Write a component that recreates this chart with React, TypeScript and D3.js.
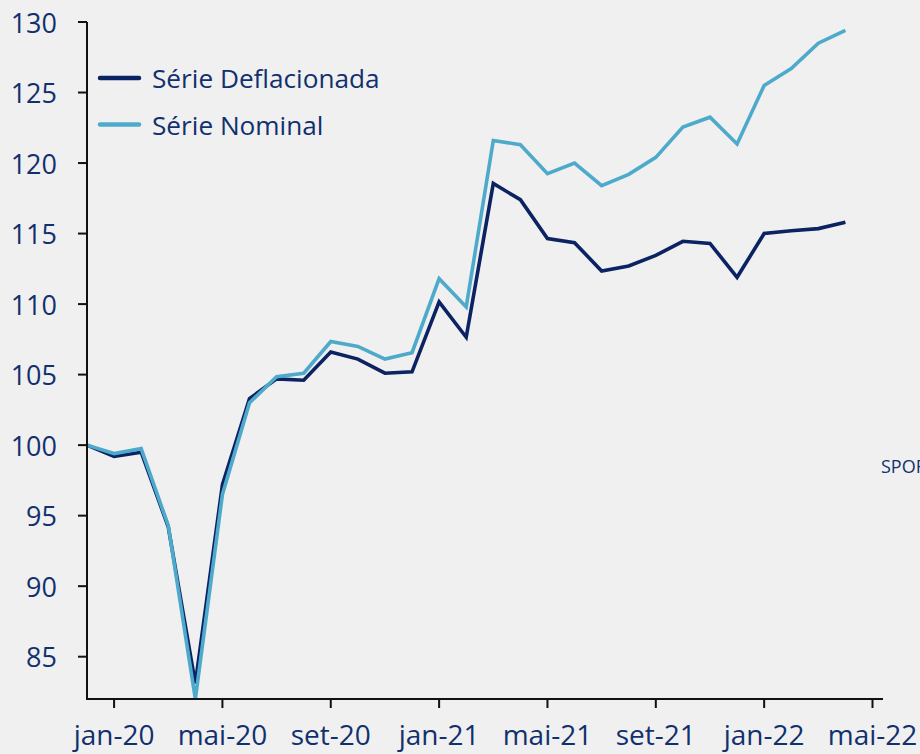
import React from "react";
import * as d3 from "d3";

const months = [
  "dez-19", "jan-20", "fev-20", "mar-20", "abr-20", "mai-20", "jun-20", "jul-20", "ago-20", "set-20",
  "out-20", "nov-20", "dez-20", "jan-21", "fev-21", "mar-21", "abr-21", "mai-21", "jun-21", "jul-21",
  "ago-21", "set-21", "out-21", "nov-21", "dez-21", "jan-22", "fev-22", "mar-22", "abr-22",
];

const deflacionada = [
  100, 99.2, 99.5, 94.2, 83.1, 97.2, 103.3, 104.7, 104.6, 106.6,
  106.1, 105.1, 105.2, 110.15, 107.65, 118.55, 117.4, 114.65, 114.35, 112.35,
  112.7, 113.45, 114.45, 114.3, 111.9, 115.0, 115.2, 115.35, 115.8,
];

const nominal = [
  100, 99.4, 99.75, 94.3, 82.0, 96.5, 103.0, 104.85, 105.1, 107.35,
  107.0, 106.1, 106.55, 111.8, 109.8, 121.6, 121.3, 119.25, 120.0, 118.4,
  119.2, 120.4, 122.55, 123.25, 121.35, 125.5, 126.7, 128.5, 129.4,
];

const yTicks = [85, 90, 95, 100, 105, 110, 115, 120, 125, 130];
const xTickLabels = ["jan-20", "mai-20", "set-20", "jan-21", "mai-21", "set-21", "jan-22", "mai-22"];
const xTickIndex = [1, 5, 9, 13, 17, 21, 25, 29];

const series = [
  { name: "Série Deflacionada", values: deflacionada, color: "#0b2263" },
  { name: "Série Nominal", values: nominal, color: "#4eaacb" },
];

const textColor = "#12306e";
const font = "'Open Sans', sans-serif";

export default function App() {
  const W = 920;
  const H = 754;
  const x = d3.scaleLinear().domain([0, months.length]).range([87, 872.5]);
  const y = d3.scaleLinear().domain([82, 130]).range([699, 22]);
  const xEnd = 883;

  const line = d3
    .line<number>()
    .x((_, i) => x(i))
    .y((v) => y(v));

  return (
    <svg
      width={W}
      height={H}
      style={{ position: "absolute", left: 0, top: 0, display: "block" }}
      fontFamily={font}
    >
      <rect x={0} y={0} width={W} height={H} fill="#f0f0f0" />

      {series.map((s) => (
        <path
          key={s.name}
          d={line(s.values) || ""}
          fill="none"
          stroke={s.color}
          strokeWidth={3.6}
          strokeLinejoin="miter"
        />
      ))}

      <line x1={x(0)} x2={x(0)} y1={y(130)} y2={y(82)} stroke="#111" strokeWidth={2} />
      {yTicks.map((t) => (
        <g key={t}>
          <line x1={x(0) - 9} x2={x(0)} y1={y(t)} y2={y(t)} stroke="#111" strokeWidth={2} />
          <text
            x={57}
            y={y(t)}
            textAnchor="end"
            dominantBaseline="central"
            fontSize={27}
            fill={textColor}
          >
            {t}
          </text>
        </g>
      ))}

      <line x1={x(0) - 1} x2={xEnd} y1={y(82)} y2={y(82)} stroke="#111" strokeWidth={2} />
      {xTickIndex.map((idx, i) => (
        <g key={xTickLabels[i]}>
          <line x1={x(idx)} x2={x(idx)} y1={y(82)} y2={y(82) + 9} stroke="#111" strokeWidth={2} />
          <text x={x(idx)} y={745} textAnchor="middle" fontSize={28} fill={textColor}>
            {xTickLabels[i]}
          </text>
        </g>
      ))}

      {series.map((s, i) => (
        <g key={s.name} transform={`translate(0, ${78 + i * 46.5})`}>
          <line x1={100} x2={139} y1={0} y2={0} stroke={s.color} strokeWidth={4.5} strokeLinecap="round" />
          <text x={152} y={0} dominantBaseline="central" fontSize={26.2} fill={textColor}>
            {s.name}
          </text>
        </g>
      ))}

      <text x={881} y={473} fontSize={18} fill={textColor}>
        SPOF
      </text>
    </svg>
  );
}
